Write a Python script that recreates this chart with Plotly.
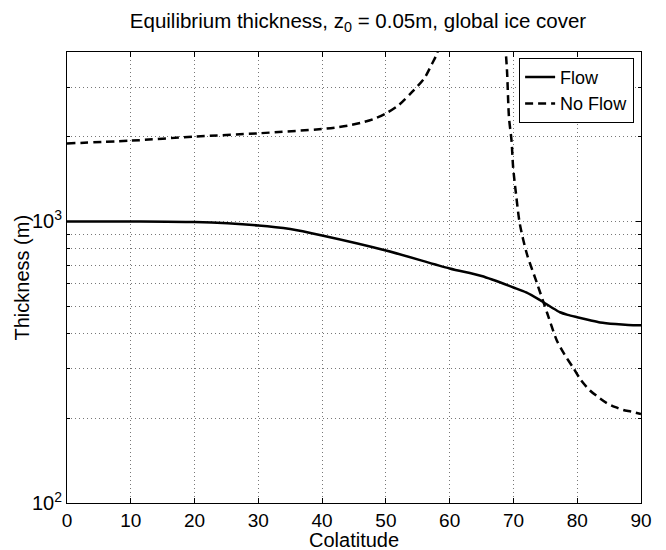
import plotly.graph_objects as go

# Flow (solid)
flow_x = [0, 10, 20, 30, 35, 40, 50, 60, 65, 70, 72, 74.2, 76, 77.3, 78.5, 80, 82, 83.6, 86, 88, 90]
flow_y = [1000, 1000, 995, 968, 940, 892, 789, 681, 640, 583, 560, 525, 495, 476, 466, 457, 446, 438, 432, 429, 428]

# No Flow (dashed) - two branches separated by a gap
noflow_x = [0, 10, 20, 30, 40, 42, 44, 46, 48, 50, 52, 54, 56, 57.2, 58.0, 58.4,
            None,
            68.7, 69.0, 69.3, 69.7, 69.95, 70.4, 71.0, 72.1, 73.7, 75.3, 76.8, 78, 79.3, 80.5, 82.0, 83.5, 84.7, 86, 87.2, 88.5, 90]
noflow_y = [1894, 1937, 2002, 2057, 2131, 2155, 2190, 2240, 2310, 2420, 2590, 2870, 3220, 3620, 3940, 4300,
            None,
            4300, 3400, 2344, 1937, 1557, 1254, 981, 768, 603, 472, 378, 337, 304, 275, 251, 236, 226, 219, 214, 211, 207]

x_ticks = [0, 10, 20, 30, 40, 50, 60, 70, 80, 90]
y_major = [100, 1000]
y_major_text = ["10<sup>2</sup>", "10<sup>3</sup>"]
y_minor = [200, 300, 400, 500, 600, 700, 800, 900, 2000, 3000]

FONT = "Liberation Sans, Arial, Helvetica, sans-serif"
GRID = "#777"
DOT = "1px,3px"

fig = go.Figure()
fig.add_trace(go.Scatter(x=flow_x, y=flow_y, mode="lines", name="Flow",
                         line=dict(color="black", width=2.5, shape="spline", smoothing=0.8)))
fig.add_trace(go.Scatter(x=noflow_x, y=noflow_y, mode="lines", name="No Flow",
                         line=dict(color="black", width=2.5, dash="8px,5px", shape="spline", smoothing=0.8),
                         connectgaps=False))

fig.update_layout(
    width=666, height=550,
    margin=dict(l=67, r=25, t=52, b=47),
    paper_bgcolor="white", plot_bgcolor="white",
    font=dict(family=FONT, size=19, color="black"),
    title=dict(text="Equilibrium thickness, z<sub>0</sub> = 0.05m, global ice cover",
               x=358 / 666, xanchor="center", y=1 - 21 / 550, yanchor="middle",
               font=dict(size=20.5)),
    legend=dict(x=0.988, y=0.987, xanchor="right", yanchor="top",
                bgcolor="white", bordercolor="black", borderwidth=1,
                font=dict(size=18), tracegroupgap=0, itemwidth=30),
    showlegend=True,
    annotations=[
        dict(text="Colatitude", xref="paper", yref="paper", x=0.5, y=-0.0 - 37 / 451,
             xanchor="center", yanchor="middle", showarrow=False, font=dict(size=20)),
        dict(text="Thickness (m)", xref="paper", yref="paper", x=-46 / 574, y=0.5,
             xanchor="center", yanchor="middle", showarrow=False, textangle=-90,
             font=dict(size=20)),
    ],
)

fig.update_xaxes(
    range=[0, 90], tickmode="array", tickvals=x_ticks,
    ticks="inside", ticklen=5, tickcolor="black",
    showline=True, linecolor="black", linewidth=1, mirror="allticks",
    showgrid=True, gridcolor=GRID, griddash=DOT, gridwidth=1,
    zeroline=False, automargin=False,
    tickfont=dict(size=19),
)

fig.update_yaxes(
    type="log", range=[2, 3.6021],
    tickmode="array", tickvals=y_major, ticktext=y_major_text,
    ticks="inside", ticklen=5, tickcolor="black",
    showline=True, linecolor="black", linewidth=1, mirror="allticks",
    showgrid=True, gridcolor=GRID, griddash=DOT, gridwidth=1,
    zeroline=False, automargin=False,
    minor=dict(tickmode="array", tickvals=y_minor, ticks="inside", ticklen=3,
               tickcolor="black", showgrid=True, gridcolor=GRID,
               griddash=DOT, gridwidth=1),
    tickfont=dict(size=20),
)

fig.write_html("out.html")
